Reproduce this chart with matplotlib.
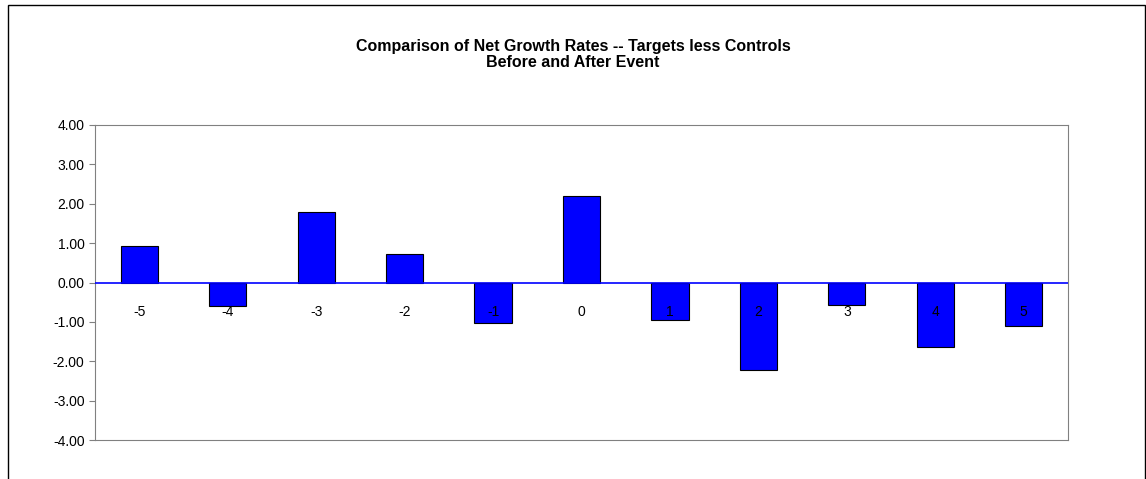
import numpy as np
import matplotlib.pyplot as plt
from matplotlib.patches import Rectangle

# data
periods = [-5, -4, -3, -2, -1, 0, 1, 2, 3, 4, 5]
net_growth = [0.93, -0.60, 1.80, 0.73, -1.02, 2.20, -0.94, -2.23, -0.56, -1.63, -1.10]
yticks = np.arange(-4, 4.01, 1)

fig = plt.figure(figsize=(11.46, 4.79), dpi=100)
fig.patches.append(Rectangle((8/1146, -0.01), 1137/1146, 1.0, transform=fig.transFigure,
                             fill=False, edgecolor='black', linewidth=1))
ax = fig.add_axes([95/1146, 39/479, 973/1146, 315/479])

x = np.arange(len(periods))
ax.bar(x, net_growth, width=0.42, color='#0000ff', edgecolor='black', linewidth=0.8, zorder=2)
ax.axhline(0, color='#0000ff', linewidth=1.2, zorder=3)
for xi, p in zip(x, periods):
    ax.text(xi, -0.75, str(p), ha='center', va='center', fontsize=10, family='Liberation Sans', zorder=4)

ax.set_xlim(-0.5, len(periods) - 0.5)
ax.set_ylim(-4, 4)
ax.set_yticks(yticks)
ax.set_yticklabels(['%.2f' % v for v in yticks], fontsize=10, family='Liberation Sans')
ax.set_xticks([])
for s in ax.spines.values():
    s.set_color('#808080')
ax.tick_params(axis='y', direction='out', length=4, color='#808080')

fig.text(0.5, 0.887, 'Comparison of Net Growth Rates -- Targets less Controls\nBefore and After Event',
         ha='center', va='center', fontsize=11.5, fontweight='bold', family='Liberation Sans',
         linespacing=1.1)

fig.savefig('out.png', dpi=100)
